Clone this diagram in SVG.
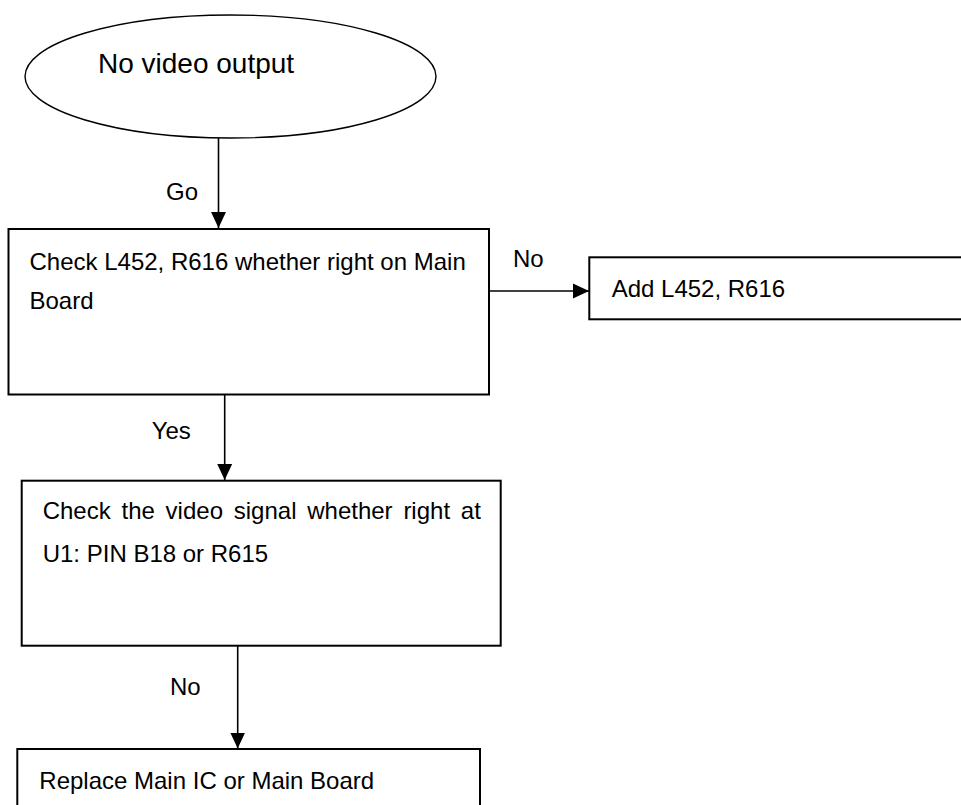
<svg xmlns="http://www.w3.org/2000/svg" width="961" height="805" viewBox="0 0 961 805">
<defs>
<style>
text{font-family:"Liberation Sans",Arial,sans-serif;font-size:24px;fill:#000}
.box{fill:#fff;stroke:#000;stroke-width:2}
.conn{fill:none;stroke:#000;stroke-width:1.6}
</style>
<marker id="ah" markerUnits="userSpaceOnUse" markerWidth="16" markerHeight="16" viewBox="0 0 15 14" refX="15" refY="7" orient="auto">
<path d="M0,0 L15,7 L0,14 Z" fill="#000"/>
</marker>
</defs>
<rect width="961" height="805" fill="#fff"/>
<g id="connectors">
<line class="conn" x1="218.5" y1="138" x2="218.5" y2="228" marker-end="url(#ah)"/>
<line class="conn" x1="490" y1="291" x2="589" y2="291" marker-end="url(#ah)"/>
<line class="conn" x1="224.7" y1="395" x2="224.7" y2="480" marker-end="url(#ah)"/>
<line class="conn" x1="237.7" y1="646" x2="237.7" y2="748.5" marker-end="url(#ah)"/>
<text x="166" y="200">Go</text>
<text x="513" y="267">No</text>
<text x="151.7" y="439.3">Yes</text>
<text x="170" y="695">No</text>
</g>
<g id="start">
<ellipse cx="230.5" cy="76.5" rx="205.5" ry="61.5" fill="#fff" stroke="#000" stroke-width="1.4"/>
<text x="98" y="73" style="font-size:28px">No video output</text>
</g>
<g id="check1">
<rect class="box" x="8.5" y="229" width="480.5" height="165.5"/>
<text x="29.5" y="270">Check L452, R616 whether right on Main</text>
<text x="29.5" y="309.3">Board</text>
</g>
<g id="add">
<rect class="box" x="589.3" y="257.3" width="380" height="62"/>
<text x="611.7" y="297">Add L452, R616</text>
</g>
<g id="check2">
<rect class="box" x="21.7" y="480.7" width="479" height="165"/>
<text x="42.7" y="519.3" word-spacing="4.1">Check the video signal whether right at</text>
<text x="42.7" y="561.7">U1: PIN B18 or R615</text>
</g>
<g id="replace">
<rect class="box" x="17.3" y="749" width="462.7" height="70"/>
<text x="39.3" y="789">Replace Main IC or Main Board</text>
</g>
</svg>
